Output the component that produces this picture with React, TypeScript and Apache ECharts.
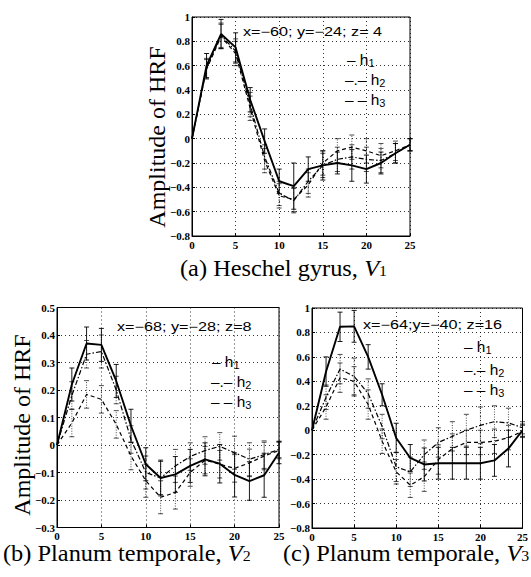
import React, { useEffect, useRef } from "react";
import * as echarts from "echarts";

// time axis (s)
const times = [0, 1.67, 3.33, 5, 6.67, 8.33, 10, 11.67, 13.33, 15, 16.67, 18.33, 20, 21.67, 23.33, 25];
const xTicks = [0, 5, 10, 15, 20, 25];

// (a) Heschel gyrus, V1
const aH1 = [0, 0.6, 0.86, 0.75, 0.32, -0.02, -0.35, -0.39, -0.25, -0.22, -0.2, -0.22, -0.25, -0.2, -0.12, -0.05];
const aH2 = [0, 0.58, 0.85, 0.72, 0.28, -0.15, -0.45, -0.51, -0.35, -0.22, -0.17, -0.15, -0.17, -0.18, -0.12, -0.05];
const aH3 = [0, 0.57, 0.84, 0.7, 0.25, -0.18, -0.47, -0.5, -0.38, -0.2, -0.1, -0.07, -0.1, -0.14, -0.1, -0.05];
const aE1 = [0, 0.1, 0.12, 0.12, 0.1, 0.1, 0.1, 0.19, 0.1, 0.12, 0.09, 0.13, 0.115, 0.09, 0.08, 0.05];
const aE2 = [0, 0.08, 0.1, 0.1, 0.1, 0.1, 0.1, 0.1, 0.1, 0.1, 0.1, 0.1, 0.1, 0.1, 0.08, 0.05];
const aE3 = [0, 0.08, 0.1, 0.1, 0.1, 0.1, 0.1, 0.1, 0.1, 0.1, 0.1, 0.1, 0.1, 0.1, 0.08, 0.05];

// (b) Planum temporale, V2
const bH1 = [0, 0.22, 0.369, 0.364, 0.233, 0.07, -0.07, -0.12, -0.107, -0.076, -0.052, -0.068, -0.109, -0.131, -0.11, -0.028];
const bH2 = [0, 0.18, 0.33, 0.34, 0.2, 0.02, -0.1, -0.12, -0.076, -0.042, -0.02, -0.005, -0.028, -0.052, -0.035, -0.016];
const bH3 = [0, 0.08, 0.184, 0.166, 0.075, -0.04, -0.13, -0.19, -0.173, -0.1, -0.055, -0.07, -0.085, -0.065, -0.04, -0.02];
const bE1 = [0, 0.06, 0.06, 0.06, 0.06, 0.06, 0.06, 0.065, 0.065, 0.06, 0.06, 0.07, 0.08, 0.07, 0.08, 0.04];
const bE2 = [0, 0.05, 0.05, 0.06, 0.05, 0.05, 0.06, 0.06, 0.06, 0.05, 0.05, 0.05, 0.06, 0.06, 0.05, 0.03];
const bE3 = [0, 0.05, 0.05, 0.05, 0.05, 0.05, 0.06, 0.06, 0.06, 0.05, 0.05, 0.05, 0.05, 0.05, 0.05, 0.03];

// (c) Planum temporale, V3
const cH1 = [0, 0.48, 0.846, 0.85, 0.6, 0.29, -0.063, -0.227, -0.28, -0.27, -0.27, -0.27, -0.27, -0.247, -0.15, 0.0];
const cH2 = [0, 0.27, 0.5, 0.44, 0.3, 0.03, -0.3, -0.34, -0.2, -0.1, -0.05, 0, 0.04, 0.07, 0.06, 0.02];
const cH3 = [0, 0.19, 0.43, 0.4, 0.21, -0.09, -0.34, -0.45, -0.38, -0.24, -0.15, -0.1, -0.1, -0.09, -0.06, -0.01];
const cE1 = [0, 0.12, 0.12, 0.13, 0.1, 0.09, 0.12, 0.11, 0.135, 0.13, 0.13, 0.13, 0.13, 0.13, 0.15, 0.05];
const cE2 = [0, 0.1, 0.12, 0.15, 0.12, 0.1, 0.12, 0.12, 0.12, 0.12, 0.12, 0.13, 0.15, 0.13, 0.12, 0.05];
const cE3 = [0, 0.1, 0.12, 0.12, 0.12, 0.1, 0.1, 0.1, 0.12, 0.12, 0.12, 0.1, 0.1, 0.1, 0.1, 0.05];

// axis ranges
const yRanges = [
  { min: -0.8, max: 1, interval: 0.2 },
  { min: -0.3, max: 0.5, interval: 0.1 },
  { min: -0.8, max: 1, interval: 0.2 },
];

// texts
const yTitle = "Amplitude of HRF";
const annotations = ["x=−60; y=−24; z= 4", "x=−68; y=−28; z=8", "x=−64;y=−40; z=16"];
const legendMarks = ["– h", "–.– h", "– – h"];
const legendSubs = ["1", "2", "3"];
const captions = [
  ["(a) Heschel gyrus, ", "V", "1"],
  ["(b) Planum temporale, ", "V", "2"],
  ["(c) Planum temporale, ", "V", "3"],
];

const SERIF = "Liberation Serif";
const SANS = "Liberation Sans";

const fmt = (v: number) => {
  const r = Math.round(v * 10) / 10;
  const s = Math.abs(r) < 1e-9 ? "0" : String(r);
  return s.replace("-", "−");
};

export default function App() {
  const ref = useRef<HTMLDivElement>(null);
  useEffect(() => {
    if (!ref.current) return;
    const chart = echarts.init(ref.current, null, { renderer: "svg" });

    const grids = [
      { left: 192, top: 17, width: 218, height: 219 },
      { left: 57, top: 307.5, width: 222, height: 220 },
      { left: 312, top: 308, width: 222, height: 220 },
    ];
    const dataSets = [
      { h: [aH1, aH2, aH3], e: [aE1, aE2, aE3] },
      { h: [bH1, bH2, bH3], e: [bE1, bE2, bE3] },
      { h: [cH1, cH2, cH3], e: [cE1, cE2, cE3] },
    ];
    const lineStyles: any[] = [
      { width: 1.9, type: "solid" },
      { width: 1.2, type: [5, 2, 1.5, 2] },
      { width: 1.2, type: [4, 3] },
    ];

    const series: any[] = [];
    dataSets.forEach((ds, gi) => {
      ds.h.forEach((vals, si) => {
        const errs = ds.e[si];
        series.push({
          type: "custom",
          xAxisIndex: gi,
          yAxisIndex: gi,
          silent: true,
          z: 2,
          data: times.map((t, i) => [t, vals[i] - errs[i], vals[i] + errs[i]]),
          renderItem: (params: any, api: any) => {
            const x = api.value(0);
            const lo = api.value(1);
            const hi = api.value(2);
            if (hi - lo < 1e-6) return { type: "group", children: [] };
            const p1 = api.coord([x, lo]);
            const p2 = api.coord([x, hi]);
            const w = 2.5;
            const st = { stroke: "#000", lineWidth: si === 0 ? 0.9 : 0.7 };
            return {
              type: "group",
              children: [
                {
                  type: "line",
                  shape: { x1: p1[0], y1: p1[1], x2: p2[0], y2: p2[1] },
                  style: { ...st, lineDash: si === 0 ? null : [1, 1.5] },
                },
                { type: "line", shape: { x1: p1[0] - w, y1: p1[1], x2: p1[0] + w, y2: p1[1] }, style: st },
                { type: "line", shape: { x1: p2[0] - w, y1: p2[1], x2: p2[0] + w, y2: p2[1] }, style: st },
              ],
            };
          },
        });
        series.push({
          type: "line",
          name: "h" + (si + 1),
          xAxisIndex: gi,
          yAxisIndex: gi,
          symbol: "none",
          silent: true,
          z: 3,
          data: times.map((t, i) => [t, vals[i]]),
          lineStyle: { color: "#000", ...lineStyles[si] },
        });
      });
    });

    const splitLine = { show: true, lineStyle: { color: "#000", width: 0.8, type: [1, 3] } };
    const axisLabel = { color: "#000", fontFamily: SERIF, fontSize: 11, fontWeight: "bold" };

    const xAxis = grids.map((_, gi) => ({
      type: "value",
      gridIndex: gi,
      min: xTicks[0],
      max: xTicks[xTicks.length - 1],
      interval: 5,
      axisLine: { show: true, onZero: false, lineStyle: { color: "#000", width: 1 } },
      axisTick: { show: true, inside: true, length: 3, lineStyle: { color: "#000" } },
      axisLabel: { ...axisLabel, margin: 3, formatter: (v: number) => fmt(v) },
      splitLine,
    }));
    const yAxis = grids.map((_, gi) => ({
      type: "value",
      gridIndex: gi,
      min: yRanges[gi].min,
      max: yRanges[gi].max,
      interval: yRanges[gi].interval,
      axisLine: { show: true, onZero: false, lineStyle: { color: "#000", width: 1 } },
      axisTick: { show: true, inside: true, length: 3, lineStyle: { color: "#000" } },
      axisLabel: { ...axisLabel, margin: 2, formatter: (v: number) => fmt(v) },
      splitLine,
    }));

    // text graphics
    const graphics: any[] = [];
    const yTitlePos = [
      [157, 137],
      [22, 425],
    ];
    yTitlePos.forEach(([x, y]) =>
      graphics.push({
        type: "text",
        x,
        y,
        rotation: Math.PI / 2,
        style: { text: yTitle, fontFamily: SERIF, fontSize: 24, fill: "#000", align: "center", verticalAlign: "middle" },
      })
    );
    const annPos = [
      [243, 32],
      [117, 327],
      [363, 325],
    ];
    annPos.forEach(([x, y], i) =>
      graphics.push({
        type: "text",
        x,
        y,
        scaleX: 1.35,
        style: { text: annotations[i], fontFamily: SANS, fontSize: 12, fill: "#000", align: "left", verticalAlign: "middle" },
      })
    );
    const legPos = [
      [[347, 60], [345, 80], [345, 100]],
      [[212, 362], [211, 382], [211, 402]],
      [[464, 347], [464, 370], [464, 390]],
    ];
    legPos.forEach((entries) =>
      entries.forEach(([x, y], k) =>
        graphics.push({
          type: "text",
          x,
          y,
          scaleX: 1.1,
          style: {
            text: `{t|${legendMarks[k]}}{s|${legendSubs[k]}}`,
            align: "left",
            verticalAlign: "middle",
            rich: {
              t: { fontFamily: SANS, fontSize: 14, fill: "#000", lineHeight: 16, verticalAlign: "middle" },
              s: { fontFamily: SANS, fontSize: 10, fill: "#000", lineHeight: 10, verticalAlign: "bottom" },
            },
          },
        })
      )
    );
    const capPos = [
      [180, 268],
      [3, 553],
      [283, 553],
    ];
    capPos.forEach(([x, y], i) =>
      graphics.push({
        type: "text",
        x,
        y,
        scaleX: 1.06,
        style: {
          text: `{n|${captions[i][0]}}{v|${captions[i][1]}}{s|${captions[i][2]}}`,
          align: "left",
          verticalAlign: "middle",
          rich: {
            n: { fontFamily: SERIF, fontSize: 23, fill: "#000", lineHeight: 20, verticalAlign: "middle" },
            v: { fontFamily: SERIF, fontStyle: "italic", fontSize: 23, fill: "#000", lineHeight: 20, verticalAlign: "middle" },
            s: { fontFamily: SERIF, fontSize: 15, fill: "#000", lineHeight: 8, verticalAlign: "bottom" },
          },
        },
      })
    );

    chart.setOption({
      animation: false,
      backgroundColor: "#fff",
      grid: grids.map((g) => ({ ...g, show: true, borderColor: "#000", borderWidth: 1, backgroundColor: "transparent" })),
      xAxis,
      yAxis,
      series,
      graphic: graphics,
    });
    return () => chart.dispose();
  }, []);
  return <div ref={ref} style={{ position: "fixed", left: 0, top: 0, width: 531, height: 577, background: "#fff" }} />;
}
